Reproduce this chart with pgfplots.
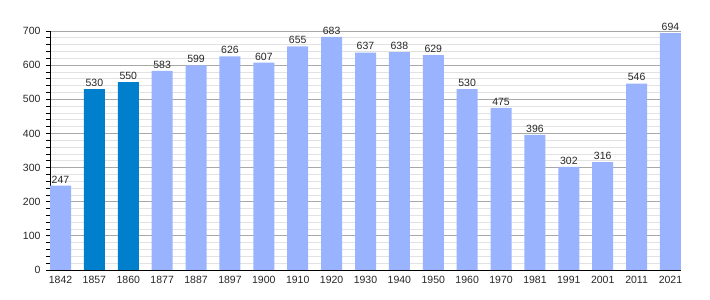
\documentclass[border=0pt]{standalone}
\usepackage{fontspec}
\setmainfont{Liberation Sans}
\usepackage{pgfplots}
\pgfplotsset{compat=1.18}
\definecolor{lightbar}{HTML}{99B3FF}
\definecolor{darkbar}{HTML}{0080CC}
\definecolor{majgrid}{HTML}{A8A8A8}
\definecolor{mingrid}{HTML}{E2E2E2}
\begin{document}
\begin{tikzpicture}
\begin{axis}[
  name=ax,
  scale only axis,
  width=631pt, height=239pt,
  xmin=-0.31, xmax=18.31,
  ymin=0, ymax=700,
  axis x line*=bottom,
  axis y line*=left,
  axis line style={black, line width=0.9pt},
  xtick={0,...,18},
  xticklabels={1842,1857,1860,1877,1887,1897,1900,1910,1920,1930,1940,1950,1960,1970,1981,1991,2001,2011,2021},
  x tick style={draw=none},
  ytick={0,100,...,700},
  minor y tick num=4,
  ymajorgrids, yminorgrids,
  major grid style={majgrid, line width=0.7pt},
  minor grid style={mingrid, line width=0.7pt},
  y tick style={black, line width=0.7pt},
  major tick length=4pt,
  minor tick length=4pt,
  tick align=outside,
  tick label style={font=\fontsize{10.5}{12}\selectfont, text=black!85},
  /pgf/number format/assume math mode=true,
  yticklabel style={xshift=-2pt},
  xticklabel style={yshift=1pt},
  ybar, bar width=21pt, bar shift=0pt,
  nodes near coords,
  every node near coord/.append style={font=\fontsize{10.5}{12}\selectfont, text=black!85, yshift=-1pt},
  clip=false,
]
\addplot[fill=lightbar, draw=none] coordinates {
 (0,247) (3,583) (4,599) (5,626) (6,607) (7,655) (8,683) (9,637) (10,638) (11,629) (12,530) (13,475) (14,396) (15,302) (16,316) (17,546) (18,694)};
\addplot[fill=darkbar, draw=none] coordinates {(1,530) (2,550)};
\end{axis}
\path ([xshift=-50pt,yshift=-30pt]ax.south west) rectangle ([xshift=29pt,yshift=31pt]ax.north east);
\end{tikzpicture}
\end{document}
